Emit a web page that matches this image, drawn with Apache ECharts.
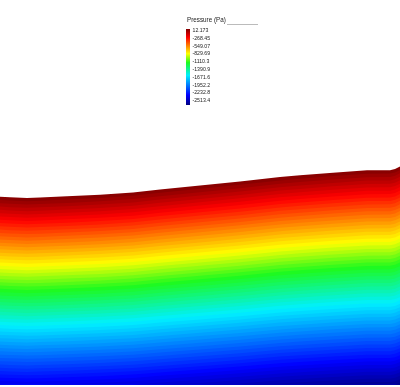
<!DOCTYPE html>
<html><head><meta charset="utf-8">
<script src="https://cdn.jsdelivr.net/npm/echarts@6/dist/echarts.min.js"></script>
<style>html,body{margin:0;padding:0;background:#fff}#c{width:400px;height:387px}</style>
</head><body><div id="c"></div>
<script>
// Free-surface profile: station x and fluid height above the bottom
const stationX = [0, 10, 27, 40, 67, 100, 133, 160, 200, 240, 280, 300, 333, 367, 390, 395, 400];
const surfaceHeight = [187.8, 187.2, 186.5, 187, 188.2, 189.8, 192, 195, 199, 203, 207.5, 209.2, 211.8, 214.2, 214.3, 215.5, 218];
// Pressure at the bottom under each station, and at the free surface
const bottomPressure = [-2240, -2236, -2230, -2234, -2244, -2258, -2276, -2300, -2334, -2368, -2406, -2420, -2442, -2462, -2463, -2473, -2495];
const surfacePressure = 12.173;
const pressureMin = -2513.4, pressureMax = 12.173;
const bandCount = 64;
const tickLabels = ['12.173', '-268.45', '-549.07', '-829.69', '-1110.3', '-1390.9', '-1671.6', '-1952.2', '-2232.8', '-2513.4'];
const legendTitle = 'Pressure (Pa)';
const colorStops = [[0, [0, 0, 128]], [0.13, [0, 0, 255]], [0.39, [0, 240, 255]], [0.557, [30, 250, 30]], [0.675, [255, 255, 0]], [0.89, [255, 0, 0]], [1, [128, 0, 0]]];

function cmap(t) {
  for (let i = 1; i < colorStops.length; i++) {
    if (t <= colorStops[i][0]) {
      const a = colorStops[i - 1], b = colorStops[i];
      const f = (t - a[0]) / (b[0] - a[0]);
      const c = a[1].map((v, j) => Math.round(v + (b[1][j] - v) * f));
      return 'rgb(' + c.join(',') + ')';
    }
  }
  return 'rgb(' + colorStops[colorStops.length - 1][1].join(',') + ')';
}
const paletteList = [];
for (let i = 0; i <= 128; i++) paletteList.push(cmap(i / 128));

const step = (pressureMax - pressureMin) / bandCount;
const bands = [];
for (let k = 0; k < bandCount; k++) {
  const hi = pressureMax - k * step, lo = hi - step;
  bands.push([hi, lo, (hi + lo) / 2]);
}

const font = '"Liberation Sans", Arial, sans-serif';
const graphics = [
  { type: 'text', x: 187, y: 20, style: { text: legendTitle, fontSize: 6.3, fontFamily: font, fill: '#222', verticalAlign: 'middle' } },
  { type: 'line', shape: { x1: 227, y1: 24.5, x2: 258, y2: 24.5 }, style: { stroke: '#bbb', lineWidth: 1 } },
  { type: 'rect', shape: { x: 186, y: 29, width: 4, height: 76 },
    style: { fill: new echarts.graphic.LinearGradient(0, 0, 0, 1,
      colorStops.map(s => ({ offset: 1 - s[0], color: 'rgb(' + s[1].join(',') + ')' })).reverse()) } }
];
tickLabels.forEach((t, i) => {
  graphics.push({ type: 'text', x: 192.5, y: 30.5 + i * 7.8,
    style: { text: t, fontSize: 5.2, fontFamily: font, fill: '#222', verticalAlign: 'middle' } });
});

const chart = echarts.init(document.getElementById('c'), null, { renderer: 'canvas' });
chart.setOption({
  animation: false,
  backgroundColor: '#fff',
  grid: { left: 0, right: 0, top: 0, bottom: 0 },
  xAxis: { type: 'value', min: 0, max: 400, show: false },
  yAxis: { type: 'value', min: -2.5, max: 384.5, show: false },
  visualMap: { show: false, type: 'continuous', seriesIndex: 0, dimension: 2, min: pressureMin, max: pressureMax, inRange: { color: paletteList } },
  graphic: graphics,
  series: [{
    type: 'custom',
    data: bands,
    renderItem: function (params, api) {
      const pHigh = api.value(0);
      const pts = [];
      for (let i = 0; i < stationX.length; i++) {
        const f = Math.min(1, Math.max(0, (surfacePressure - pHigh) / (surfacePressure - bottomPressure[i])));
        pts.push(api.coord([stationX[i], surfaceHeight[i] * (1 - f)]));
      }
      for (let i = stationX.length - 1; i >= 0; i--) pts.push(api.coord([stationX[i], 0]));
      return { type: 'polygon', shape: { points: pts }, style: { fill: api.visual('color') } };
    }
  }]
});
</script></body></html>
